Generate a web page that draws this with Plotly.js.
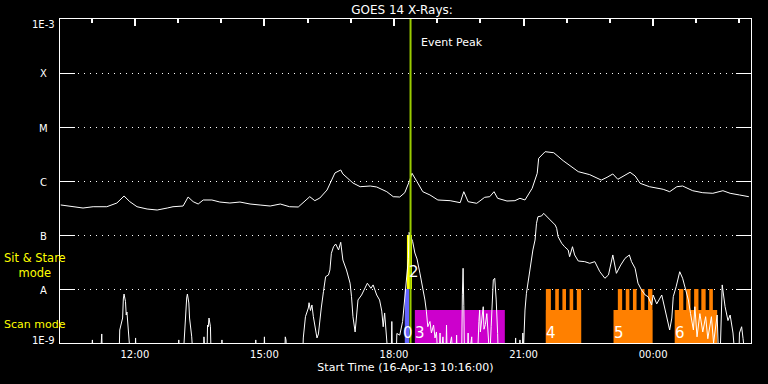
<!DOCTYPE html>
<html>
<head>
<meta charset="utf-8">
<script src="https://cdn.plot.ly/plotly-3.0.1.min.js"></script>
<style>
html,body{margin:0;padding:0;background:#000;}
#chart{width:768px;height:384px;}
</style>
</head>
<body>
<div id="chart"></div>
<script>
// ---- data (times are UT, 16-Apr-2013 10:16 to 17-Apr-2013 02:16) ----
const xStartTime = '2013-04-16 10:16';
const xEndTime = '2013-04-17 02:16';

// GOES 14 long channel (1-8 A), W/m^2
const longTimes = ['10:17','10:34','10:48','11:02','11:21','11:35','11:45','11:53','12:03','12:17','12:31','12:45','12:53','13:07','13:14','13:21','13:28','13:35','13:47','13:58','14:12','14:26','14:40','14:54','15:08','15:22','15:35','15:47','15:56','16:03','16:10','16:17','16:27','16:38','16:46','16:49','17:03','17:13','17:27','17:36','17:50','17:59','18:08','18:15','18:22','18:25','18:32','18:40','18:50','19:01','19:18','19:32','19:37','19:43','19:55','20:06','20:13','20:19','20:24','20:37','20:48','20:55','21:02','21:12','21:19','21:21','21:30','21:42','21:55','22:07','22:16','22:32','22:48','22:56','23:04','23:11','23:28','23:35','23:42','23:55','00:14','00:23','00:33','00:41','00:55','01:09','01:23','01:37','01:47','02:00','02:13'];
const longFlux = [3.6e-7,3.34e-7,3.16e-7,3.34e-7,3.34e-7,3.91e-7,5.27e-7,4.14e-7,3.34e-7,3.03e-7,2.9e-7,3.16e-7,3.34e-7,3.44e-7,5.05e-7,4.14e-7,3.75e-7,4.45e-7,4.45e-7,4.08e-7,3.91e-7,4.08e-7,3.75e-7,3.59e-7,3.44e-7,3.75e-7,3.34e-7,3.3e-7,4.32e-7,5.12e-7,4.32e-7,4.84e-7,6.81e-7,1.41e-6,1.6e-6,1.35e-6,9.18e-7,7.84e-7,8.08e-7,7.74e-7,6.34e-7,5.12e-7,5.05e-7,6.07e-7,1.04e-6,1.39e-6,9.71e-7,6.34e-7,5.51e-7,4.45e-7,4.32e-7,3.97e-7,6.34e-7,4.14e-7,3.86e-7,4.99e-7,5.12e-7,6.34e-7,4.78e-7,4.26e-7,4.32e-7,4.78e-7,4.45e-7,7.33e-7,1.39e-6,2.63e-6,3.49e-6,3.34e-6,2.38e-6,1.79e-6,1.49e-6,1.31e-6,1.04e-6,1.17e-6,1.35e-6,1.075e-6,1.45e-6,1.24e-6,9.06e-7,7.84e-7,7.02e-7,6.34e-7,7.84e-7,8.08e-7,6.61e-7,6.07e-7,5.92e-7,6.61e-7,5.92e-7,5.51e-7,5.12e-7];

// GOES 14 short channel (0.5-4 A), W/m^2 (values below 1E-9 are off scale)
const shortTimes = ['10:16','10:59','11:01','11:03','11:12','11:13','11:14','11:15','11:38','11:39','11:43','11:44','11:45','11:47','11:48','11:49','11:51','11:52','11:54','12:00','12:01','12:02','13:00','13:01','13:02','13:07','13:09','13:11','13:12','13:13','13:15','13:16','13:18','13:19','13:21','13:35','13:36','13:38','13:40','13:41','13:42','13:43','13:45','13:46','14:00','14:01','14:02','14:47','14:48','14:49','14:59','15:00','15:01','15:28','15:29','15:30','15:31','15:53','15:54','15:57','16:01','16:02','16:04','16:06','16:08','16:10','16:13','16:15','16:17','16:19','16:22','16:25','16:29','16:31','16:33','16:36','16:39','16:43','16:46','16:49','16:54','16:59','17:01','17:03','17:06','17:08','17:10','17:15','17:20','17:23','17:28','17:31','17:36','17:40','17:43','17:45','17:47','17:50','17:52','17:56','17:57','17:58','18:03','18:04','18:08','18:12','18:15','18:17','18:20','18:21','18:26','18:29','18:32','18:36','18:40','18:43','18:45','18:47','18:50','18:52','18:55','18:57','18:59','19:01','19:03','19:04','19:05','19:08','19:10','19:12','19:13','19:14','19:20','19:22','19:26','19:27','19:28','19:34','19:35','19:36','19:37','19:38','19:42','19:43','19:44','19:48','19:49','19:56','19:58','19:59','20:00','20:02','20:04','20:05','20:07','20:09','20:11','20:13','20:15','20:17','20:18','20:20','20:22','20:24','20:25','20:48','20:49','20:50','20:54','20:55','20:56','20:58','20:59','21:00','21:02','21:04','21:06','21:09','21:11','21:13','21:16','21:18','21:20','21:25','21:28','21:32','21:37','21:44','21:46','21:48','21:53','21:57','22:02','22:04','22:08','22:11','22:16','22:25','22:32','22:39','22:46','22:53','22:58','23:04','23:07','23:09','23:15','23:21','23:27','23:30','23:35','23:39','23:44','23:49','23:53','23:58','00:00','00:05','00:12','00:14','00:19','00:23','00:26','00:28','00:32','00:37','00:41','00:44','00:49','00:52','00:56','00:58','01:01','01:05','01:09','01:13','01:16','01:21','01:24','01:29','01:31','01:33','01:35','01:36','01:40','01:44','01:47','01:51','01:54','01:59','02:00','02:03','02:05','02:08','02:16'];
const shortFlux = [5e-10,5e-10,1.14e-9,5e-10,5e-10,1.24e-9,1.47e-9,5e-10,5e-10,1.74e-9,2.9e-9,6.53e-9,8.07e-9,5.82e-9,3.3e-9,3.75e-9,2.0e-9,1.24e-9,5e-10,5e-10,1.24e-9,5e-10,5e-10,1.14e-9,5e-10,5e-10,1.74e-9,4.08e-9,6.81e-9,8.07e-9,5.51e-9,2.9e-9,1.74e-9,1.3e-9,5e-10,5e-10,1.3e-9,5e-10,5e-10,2.15e-9,2.0e-9,2.9e-9,2.0e-9,5e-10,5e-10,1.14e-9,5e-10,5e-10,1.14e-9,5e-10,5e-10,1.3e-9,5e-10,5e-10,1.3e-9,1.14e-9,5e-10,5e-10,1.24e-9,3.07e-9,4.45e-9,5.57e-9,4.0e-9,5.06e-9,3.07e-9,2.0e-9,1.24e-9,1.47e-9,2.9e-9,4.45e-9,8.91e-9,1.69e-8,1.82e-8,2.25e-8,4.58e-8,6.07e-8,6.81e-8,5.28e-8,7.33e-8,3.44e-8,2.25e-8,1.28e-8,7.2e-9,3.07e-9,1.6e-9,3.07e-9,6.26e-9,7.74e-9,1.1e-8,1.28e-8,1.03e-8,1.19e-8,7.74e-9,6.26e-9,3.9e-9,2.0e-9,3.6e-9,1.3e-9,5e-10,5e-10,2.5e-9,5e-10,5e-10,1.5e-9,1.4e-9,2.5e-9,7.74e-9,1.28e-8,3.7e-8,1.12e-7,7.52e-8,4.64e-8,3.6e-8,1.97e-8,1.1e-8,6.26e-9,3.9e-9,2.0e-9,2.5e-9,1.53e-9,2.15e-9,1.24e-9,1.6e-9,5e-10,5e-10,1.53e-9,5e-10,1.3e-9,5e-10,5e-10,2.15e-9,5e-10,1.3e-9,5e-10,5e-10,1.4e-9,5e-10,5e-10,8e-9,2.42e-8,5e-9,5e-10,5e-10,1.53e-9,5e-10,1.3e-9,5e-10,5e-10,2.5e-9,4.08e-9,1.6e-9,2.5e-9,4.7e-9,1.8e-9,2.2e-9,3.5e-9,1.3e-9,5e-10,2.0e-9,1.0e-8,1.47e-8,1.58e-8,6.26e-9,1.5e-9,5e-10,5e-10,1.24e-9,5e-10,5e-10,1.14e-9,5e-10,5e-10,1.53e-9,8e-10,4.08e-9,8.32e-9,1.28e-8,2.25e-8,3.44e-8,5.28e-8,8.08e-8,1.65e-7,2.18e-7,2.25e-7,2.52e-7,2.18e-7,1.9e-7,1.53e-7,1.33e-7,9.31e-8,7.02e-8,6.07e-8,5.28e-8,3.96e-8,6.07e-8,4.27e-8,3.3e-8,3.21e-8,2.99e-8,3.21e-8,2.09e-8,1.58e-8,1.82e-8,4.27e-8,2.59e-8,1.95e-8,2.78e-8,3.7e-8,4.27e-8,3.21e-8,2.42e-8,1.28e-8,9.57e-9,7.74e-9,7.2e-9,5.06e-9,7.74e-9,5.3e-9,7.74e-9,5.82e-9,2.9e-9,1.74e-9,2.9e-9,7.2e-9,1.1e-8,2.09e-8,1.58e-8,1.1e-8,6.26e-9,3.5e-9,1.74e-9,4.7e-9,1.3e-9,3.5e-9,1.6e-9,3.07e-9,1.2e-9,3.07e-9,1.0e-9,3.3e-9,5e-10,5e-10,3e-9,1.19e-8,4.7e-9,2.6e-9,3.3e-9,1.53e-9,5e-10,5e-10,1.53e-9,2.0e-9,1.2e-9,5e-10,5e-10];

// observing modes
const eventPeakTime = '18:23';
const blueSpan = ['18:15','18:21'];
const sitStareSpan = ['18:18','18:25'];
const magentaSpan = ['18:29','20:34'];
const orangeBlocks = [['21:31','22:20'],['23:05','23:59'],['00:30','01:29']];
const orangeTeeth = [['21:31','21:38'],['21:44','21:49'],['21:54','21:59'],['22:04','22:09'],['22:14','22:20'],
                     ['23:11','23:17'],['23:22','23:27'],['23:32','23:37'],['23:43','23:48'],['23:53','23:59'],
                     ['00:36','00:42'],['00:46','00:52'],['00:57','01:03'],['01:07','01:13'],['01:18','01:23']];
const floorLevel = 1e-9, scanTop = 4.1e-9, aLevel = 1e-8, bLevel = 1e-7;
const modeLabels = ['0','2','3','4','5','6'];
const modeLabelTimes = ['18:20','18:28','18:36','21:38','23:12','00:37'];
const modeLabelRow = ['low','mid','low','low','low','low'];

const yTickVals = [1e-9,1e-8,1e-7,1e-6,1e-5,1e-4,1e-3];
const yTickText = ['1E-9','A','B','C','M','X','1E-3'];

// ---- helpers ----
function t(hm){ return (parseInt(hm,10) >= 10 ? '2013-04-16 ' : '2013-04-17 ') + hm; }
function rectPolys(spans, lo, hi){
  const xs=[], ys=[];
  spans.forEach(function(s,i){
    if(i>0){ xs.push(null); ys.push(null); }
    xs.push(t(s[0]),t(s[1]),t(s[1]),t(s[0]),t(s[0]));
    ys.push(lo,lo,hi,hi,lo);
  });
  return {x:xs,y:ys};
}
function fillTrace(poly,color){
  return {x:poly.x,y:poly.y,type:'scatter',mode:'lines',fill:'toself',fillcolor:color,
          line:{width:0,color:color},hoverinfo:'skip',showlegend:false};
}

const FONT = 'DejaVu Sans, sans-serif';
const blue = rectPolys([blueSpan], floorLevel, aLevel);
const yellow = rectPolys([sitStareSpan], aLevel, bLevel);
const magenta = rectPolys([magentaSpan], floorLevel, scanTop);
const oBase = rectPolys(orangeBlocks, floorLevel, scanTop);
const oTeeth = rectPolys(orangeTeeth, floorLevel, aLevel);

const traces = [
  fillTrace(blue,'#6464ff'),
  fillTrace(yellow,'#ffff00'),
  fillTrace(magenta,'#cc00cc'),
  fillTrace(oBase,'#ff8000'),
  fillTrace(oTeeth,'#ff8000'),
  {x:shortTimes.map(t), y:shortFlux, type:'scatter', mode:'lines', line:{color:'#ffffff',width:1}, hoverinfo:'skip', showlegend:false},
  {x:longTimes.map(t), y:longFlux, xaxis:'x2', yaxis:'y', type:'scatter', mode:'lines', line:{color:'#ffffff',width:1}, hoverinfo:'skip', showlegend:false}
];

const annotations = [];
yTickVals.forEach(function(v,i){
  const edgeTop = i === yTickVals.length-1, edgeBot = i === 0;
  const isEdge = edgeTop || edgeBot;
  annotations.push({
    xref:'paper', yref:'paper',
    x: isEdge ? -0.0045 : -0.0232,
    xanchor: isEdge ? 'right' : 'center',
    y: i/(yTickVals.length-1), yanchor:'middle',
    yshift: edgeTop ? -5 : (edgeBot ? 3 : -1),
    text: yTickText[i], showarrow:false,
    font:{family:FONT,size:10,color:'#ffffff'}
  });
});
annotations.push({xref:'x', yref:'paper', x:t(eventPeakTime), xanchor:'left', xshift:8, y:0.926, yanchor:'middle',
  text:'Event Peak', showarrow:false, font:{family:FONT,size:11,color:'#ffffff'}});
annotations.push({xref:'paper', yref:'paper', x:-0.0839, xanchor:'left', y:0.2407, yanchor:'middle', align:'center',
  text:'Sit & Stare<br>mode', showarrow:false, font:{family:FONT,size:11.5,color:'#ffff00'}});
annotations.push({xref:'paper', yref:'paper', x:-0.0839, xanchor:'left', y:0.0586, yanchor:'middle',
  text:'Scan mode', showarrow:false, font:{family:FONT,size:11,color:'#ffff00'}});
modeLabels.forEach(function(s,i){
  annotations.push({xref:'x', yref:'paper', x:t(modeLabelTimes[i]), xanchor:'center', borderpad:0,
    y: modeLabelRow[i]==='low' ? 0.031 : 0.219, yanchor:'middle',
    text:s, showarrow:false, font:{family:FONT,size:15,color:'#ffffff'}});
});

const layout = {
  width:768, height:384,
  paper_bgcolor:'#000000', plot_bgcolor:'#000000',
  margin:{l:60, r:17, t:19, b:41, pad:0},
  showlegend:false,
  hovermode:false,
  title:{text:'GOES 14 X-Rays:', font:{family:FONT,size:12,color:'#ffffff'},
         xref:'paper', x:0.495, xanchor:'center', yref:'container', y:0.975, yanchor:'middle'},
  // main x axis on the top edge: tick marks only (major every 3 h, minor every hour)
  xaxis:{type:'date', side:'top', range:[xStartTime,xEndTime], showgrid:false, zeroline:false,
         showline:true, linecolor:'#ffffff', linewidth:1, mirror:true, showticklabels:false,
         ticks:'inside', ticklen:7, tickwidth:2, tickcolor:'#ffffff', dtick:10800000, tick0:'2013-04-16 00:00',
         minor:{ticks:'inside', ticklen:4, tickwidth:2, tickcolor:'#ffffff', dtick:3600000, showgrid:false}},
  // overlay x axis at the bottom: hour labels and title
  xaxis2:{type:'date', overlaying:'x', side:'bottom', anchor:'y', range:[xStartTime,xEndTime],
          showgrid:false, zeroline:false, showline:false, ticks:'',
          tickformat:'%H:%M', dtick:10800000, tick0:'2013-04-16 00:00',
          tickfont:{family:FONT,size:10,color:'#ffffff'}, ticklabelstandoff:4,
          title:{text:'Start Time (16-Apr-13 10:16:00)', font:{family:FONT,size:11,color:'#ffffff'}, standoff:4}},
  yaxis:{type:'log', range:[-9,-3], tickvals:yTickVals, showticklabels:false,
         ticks:'inside', ticklen:15, tickwidth:1, tickcolor:'#ffffff',
         showline:true, linecolor:'#ffffff', linewidth:1, mirror:'ticks',
         showgrid:true, gridcolor:'#ffffff', gridwidth:1, griddash:'1px,5px', zeroline:false},
  shapes:[{type:'line', xref:'x', yref:'paper', x0:t(eventPeakTime), x1:t(eventPeakTime), y0:0, y1:1,
           line:{color:'#99cc00', width:2}, layer:'above'}],
  annotations:annotations
};

Plotly.newPlot('chart', traces, layout, {staticPlot:true, displayModeBar:false});
</script>
</body>
</html>
